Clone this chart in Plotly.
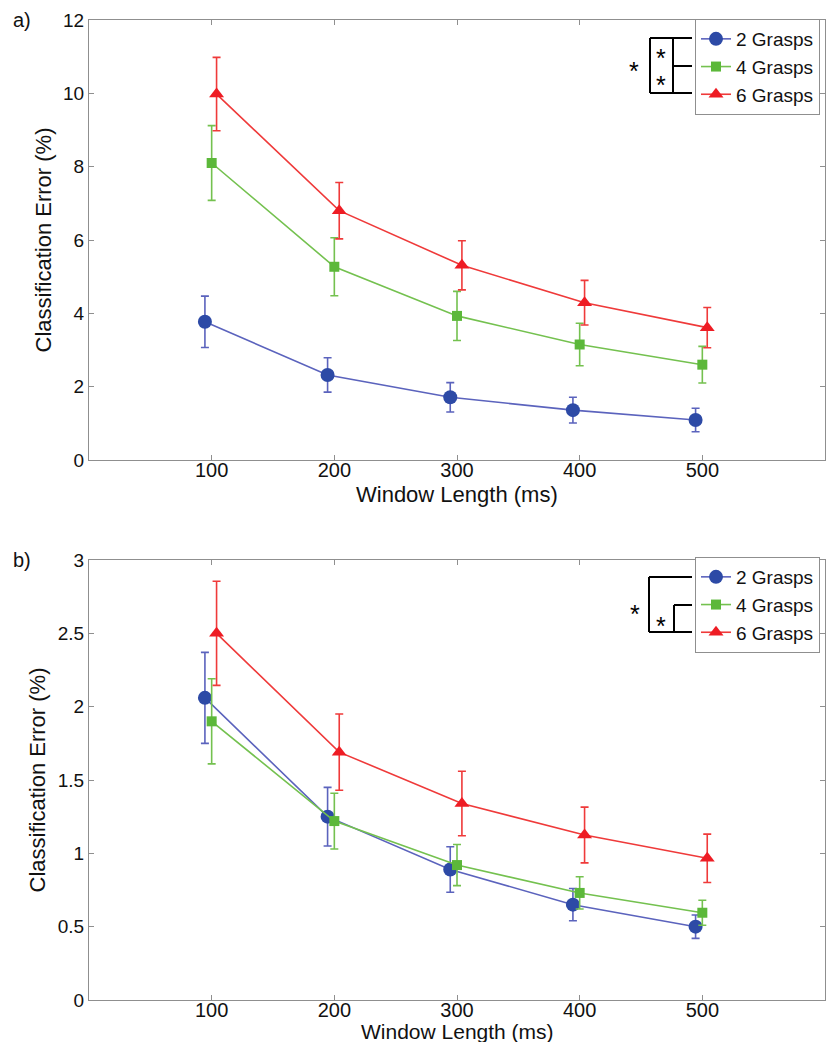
import plotly.graph_objects as go

window_ms = [100, 200, 300, 400, 500]
series_names = ["2 Grasps", "4 Grasps", "6 Grasps"]
x_offsets = [-5.5, 0, 4]

# Panel a
a_mean_2 = [3.77, 2.32, 1.71, 1.36, 1.09]
a_err_2 = [0.70, 0.47, 0.40, 0.35, 0.32]
a_mean_4 = [8.10, 5.27, 3.93, 3.15, 2.60]
a_err_4 = [1.02, 0.79, 0.67, 0.58, 0.50]
a_mean_6 = [9.98, 6.80, 5.31, 4.29, 3.61]
a_err_6 = [1.00, 0.77, 0.67, 0.61, 0.55]

# Panel b
b_mean_2 = [2.06, 1.25, 0.89, 0.65, 0.50]
b_err_2 = [0.31, 0.20, 0.155, 0.11, 0.08]
b_mean_4 = [1.90, 1.22, 0.92, 0.73, 0.595]
b_err_4 = [0.29, 0.19, 0.14, 0.11, 0.085]
b_mean_6 = [2.50, 1.69, 1.34, 1.125, 0.966]
b_err_6 = [0.355, 0.26, 0.22, 0.19, 0.165]

a_ticks = [0, 2, 4, 6, 8, 10, 12]
b_ticks = [0, 0.5, 1, 1.5, 2, 2.5, 3]
b_ticktext = ["0", "0.5", "1", "1.5", "2", "2.5", "3"]

x_title = "Window Length (ms)"
y_title = "Classification Error (%)"

line_colors = ["#5b63bd", "#74c14f", "#ef3a3a"]
marker_colors = ["#2d4aa6", "#5cb83a", "#ee1c24"]
symbols = ["circle", "square", "triangle-up"]
msizes = [14, 10, 13]

FONT = "Liberation Sans, Arial, sans-serif"
OFF = 8  # default page body margin
W, H = 838 - 2 * OFF, 1050 - 2 * OFF
# target screen geometry of plot areas
SL, SR, ST, SB = 89, 825, 20, 1000
ML, MT = SL - OFF, ST - OFF
MR = W - (SR - OFF)
MB = H - (SB - OFF)
PW = W - ML - MR
PH = H - MT - MB

fig = go.Figure()

def add_panel(means, errs, xa, ya, legend):
    for i in range(3):
        xs = [w + x_offsets[i] for w in window_ms]
        fig.add_trace(go.Scatter(
            x=xs, y=means[i], name=series_names[i], mode="lines+markers",
            xaxis=xa, yaxis=ya, legend=legend,
            line=dict(color=line_colors[i], width=1.6),
            marker=dict(symbol=symbols[i], size=msizes[i], color=marker_colors[i],
                        line=dict(width=0)),
            error_y=dict(type="data", array=errs[i], color=line_colors[i],
                         thickness=1.6, width=4),
        ))

add_panel([a_mean_2, a_mean_4, a_mean_6], [a_err_2, a_err_4, a_err_6], "x", "y", "legend")
add_panel([b_mean_2, b_mean_4, b_mean_6], [b_err_2, b_err_4, b_err_6], "x2", "y2", "legend2")

# screen pixel -> paper coords
def px(x):
    return (x - SL) / PW

def py(y):
    return 1 - (y - ST) / PH

axis_common = dict(
    showline=True, linecolor="#8f8f8f", linewidth=1.2, mirror="ticks",
    ticks="inside", ticklen=5, tickcolor="#8f8f8f", showgrid=False, zeroline=False,
)
xfont = dict(family=FONT, size=20, color="#111")
yfont = dict(family=FONT, size=19, color="#111")
tfont = dict(family=FONT, size=22, color="#111")

dom_a = [py(460), py(20)]
dom_b = [py(1000), py(560)]

leg_common = dict(xanchor="right", yanchor="top", bordercolor="#8f8f8f", borderwidth=1,
                  bgcolor="white", font=dict(family=FONT, size=19, color="#111"),
                  tracegroupgap=0, itemwidth=30)

fig.update_layout(
    width=W, height=H, margin=dict(l=ML, r=MR, t=MT, b=MB, autoexpand=False),
    paper_bgcolor="white", plot_bgcolor="white",
    font=dict(family=FONT, size=18, color="#111"),
    xaxis=dict(range=[0, 600], tickvals=window_ms, anchor="y", domain=[0, 1], tickfont=xfont,
               ticklabelstandoff=-8, **axis_common),
    yaxis=dict(range=[0, 12], tickvals=a_ticks, anchor="x", domain=dom_a, tickfont=yfont,
               title=dict(text=y_title, standoff=5, font=tfont), **axis_common),
    xaxis2=dict(range=[0, 600], tickvals=window_ms, anchor="y2", domain=[0, 1], tickfont=xfont,
                ticklabelstandoff=-8, **axis_common),
    yaxis2=dict(range=[0, 3], tickvals=b_ticks, ticktext=b_ticktext, anchor="x2", domain=dom_b,
                tickfont=yfont,
                title=dict(text=y_title, standoff=5, font=tfont), **axis_common),
    legend=dict(x=px(820), y=py(19), **leg_common),
    legend2=dict(x=px(820), y=py(557), **leg_common),
    showlegend=True,
)

shapes = []
def seg(x0, y0, x1, y1):
    shapes.append(dict(type="line", xref="paper", yref="paper",
                       x0=px(x0), y0=py(y0), x1=px(x1), y1=py(y1),
                       line=dict(color="black", width=2)))

# panel a brackets (aligned with legend rows)
r1, r2, r3 = 38, 66, 93
seg(650, r1, 692, r1); seg(650, r3, 692, r3); seg(650, r1, 650, r3)
seg(673, r1, 673, r3); seg(673, r2, 692, r2)
# panel b brackets
q1, q2, q3 = 577, 605, 632
seg(649, q1, 692, q1); seg(649, q3, 692, q3); seg(649, q1, 649, q3)
seg(674, q2, 674, q3); seg(674, q2, 692, q2)

annotations = []
def star(x, y, size=25):
    annotations.append(dict(text="*", x=px(x), y=py(y), xref="paper", yref="paper",
                            showarrow=False, font=dict(family=FONT, size=size, color="black"),
                            xanchor="center", yanchor="middle"))

star(661, 58); star(661, 85); star(634, 71)
star(635, 614); star(661, 626)

def label(text, x, y, size, xanchor="left", yanchor="top"):
    annotations.append(dict(text=text, x=px(x), y=py(y), xref="paper", yref="paper",
                            showarrow=False, xanchor=xanchor, yanchor=yanchor,
                            font=dict(family=FONT, size=size, color="#111")))

label("a)", 11, 7, 20)
label("b)", 11, 547, 20)
label(x_title, 457, 495, 22, xanchor="center", yanchor="middle")
label(x_title, 457, 1031, 21, xanchor="center", yanchor="middle")

fig.update_layout(shapes=shapes, annotations=annotations)

fig.write_html("out.html")
